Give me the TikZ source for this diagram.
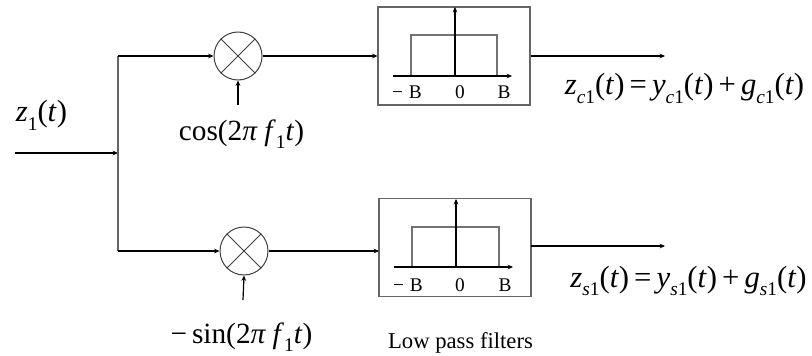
\documentclass[tikz,border=0pt]{standalone}
\usepackage{fontspec}
\setmainfont{Liberation Serif}
\usetikzlibrary{arrows.meta,positioning,calc}
\newcommand{\sbs}[1]{\raisebox{-0.28em}{\fontsize{14.5}{15}\selectfont #1}}
\newcommand{\sbi}[1]{\raisebox{-0.28em}{\fontsize{14.5}{15}\selectfont\itshape #1}}
\newcommand{\bigtxt}{\fontsize{23}{25}\selectfont}
\newcommand{\mB}{\textminus\hspace{0.3em}B}
\tikzset{
  every picture/.style={line width=0.75pt},
  wire/.style={-{Stealth[length=4pt,width=3.5pt]},line width=0.9pt},
  plainwire/.style={line width=0.9pt},
  mixer/.style={circle,draw=black!75,line width=0.75pt,minimum size=36pt,inner sep=0pt},
  filterbox/.style={rectangle,draw=black!60,line width=0.9pt,minimum width=114pt,minimum height=73.5pt,inner sep=0pt},
  passband/.style={draw=black!55,line width=0.9pt},
  biglabel/.style={anchor=base,inner sep=0pt,font=\bigtxt},
  ticklabel/.style={anchor=base,inner sep=0pt,font=\fontsize{14.5}{15}\selectfont}
}
\begin{document}
\begin{tikzpicture}[x=0.75pt,y=-0.75pt]
    \useasboundingbox (0,0) rectangle (812,356);
    % mixers and filters
    \node[mixer] (mixa) at (238,56) {};
    \node[mixer] (mixb) at (244,251) {};
    \node[filterbox] (lpfa) at (454,56) {};
    \node[filterbox] (lpfb) at (455,247.5) {};
    \draw[black!75] (mixa.45) -- (mixa.225);
    \draw[black!75] (mixa.135) -- (mixa.315);
    \draw[black!75] (mixb.45) -- (mixb.225);
    \draw[black!75] (mixb.135) -- (mixb.315);
    % free ends
    \coordinate (inp) at (15,153);
    \coordinate (split) at (118,153);
    \coordinate (upper) at (118,56);
    \coordinate (lower) at (118,251);
    \coordinate (cosin) at (238,105);
    \coordinate (sinin) at (243,300);
    \coordinate (outa) at (665,56);
    \coordinate (outb) at (665,246);
    \coordinate (lpfbin) at (379,251);
    \coordinate (lpfbout) at (531,246);
    % signal path
    \draw[wire] (inp) -- (split);
    \draw[plainwire,black!60] (upper) -- (lower);
    \draw[wire] (upper) -- (mixa.west);
    \draw[wire] (lower) -- (mixb.west);
    \draw[wire] (mixa.east) -- (lpfa.west);
    \draw[wire] (mixb.east) -- (lpfbin);
    \draw[wire] (cosin) -- (mixa.south);
    \draw[wire] (sinin) -- (mixb.south);
    \draw[wire] (lpfa.east) -- (outa);
    \draw[wire] (lpfbout) -- (outb);
    % upper filter response
    \draw[passband] (411,76) -- (411,35) -- (497,35) -- (497,76);
    \draw[wire] (393,76) -- (512,76);
    \draw[wire] (455,76) -- (455,7);
    \node[ticklabel] (mba) at (407,98.5) {\mB};
    \node[ticklabel] (zra) at (460,98.5) {0};
    \node[ticklabel] (pba) at (504,98.5) {B};
    % lower filter response
    \draw[passband] (412,267) -- (412,227) -- (499,227) -- (499,267);
    \draw[wire] (394,267) -- (513,267);
    \draw[wire] (456,267) -- (456,199);
    \node[ticklabel] (mbb) at (408,291) {\mB};
    \node[ticklabel] (zrb) at (460,291) {0};
    \node[ticklabel] (pbb) at (505,291) {B};
    % labels
    \node[biglabel] (zin) at (41.5,122) {\textit{z}\sbs{1}(\textit{t})};
    \node[biglabel,font=\fontsize{22}{24}\selectfont] (coslab) at (241.5,140) {cos(2\textit{π f}\sbs{1}\textit{t})};
    \node[biglabel,font=\fontsize{22}{24}\selectfont] (sinlab) at (241.5,343) {\textminus\,sin(2\textit{π f}\sbs{1}\textit{t})};
    \node[biglabel] (zca) at (684.5,95) {\textit{z}\sbi{c}\sbs{1}(\textit{t})\,=\,\textit{y}\sbi{c}\sbs{1}(\textit{t})\,+\,\textit{g}\sbi{c}\sbs{1}(\textit{t})};
    \node[biglabel] (zsa) at (688.5,287) {\textit{z}\sbi{s}\sbs{1}(\textit{t})\,=\,\textit{y}\sbi{s}\sbs{1}(\textit{t})\,+\,\textit{g}\sbi{s}\sbs{1}(\textit{t})};
    \node[anchor=base,inner sep=0pt,font=\fontsize{17}{18}\selectfont] (lpname) at (460.5,348) {Low pass filters};
\end{tikzpicture}
\end{document}
